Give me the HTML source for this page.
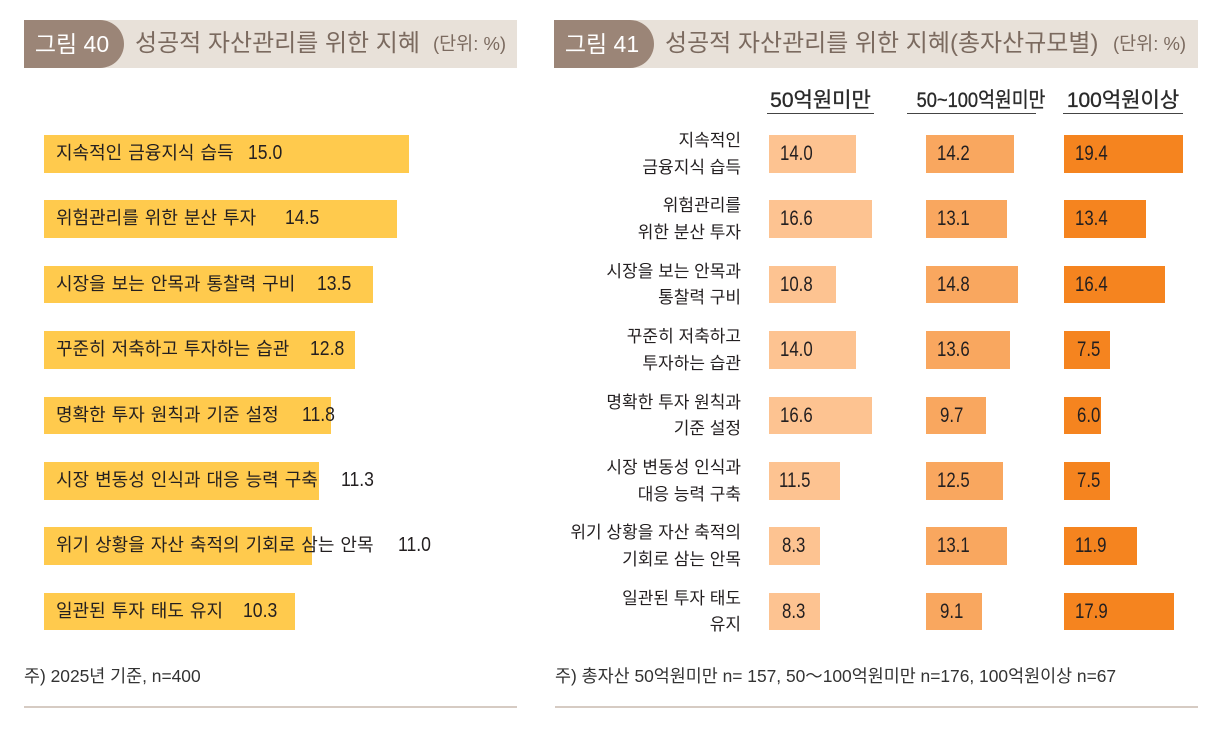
<!DOCTYPE html>
<html lang="ko">
<head>
<meta charset="utf-8">
<style>
  html,body{margin:0;padding:0;background:#fff;}
  body{width:1232px;height:730px;position:relative;overflow:hidden;
       font-family:"Liberation Sans","Noto Sans CJK KR",sans-serif;color:#231f20;}
  .band{position:absolute;top:20px;height:48px;background:#e8e1d9;}
  .pill{position:absolute;top:20px;height:48px;width:100px;background:#9b8577;
        border-radius:0 24px 24px 0;color:#fff;font-size:23px;line-height:48px;
        text-align:center;box-sizing:border-box;padding-right:4px;white-space:nowrap;}
  .title{position:absolute;top:20px;height:48px;line-height:48px;color:#7b6a5f;font-size:24px;white-space:nowrap;}
  .unit{position:absolute;top:20px;height:48px;line-height:48px;color:#7b6a5f;font-size:18.5px;white-space:nowrap;}
  .lbar{position:absolute;left:43.5px;height:37.5px;background:#ffca4d;}
  .ltxt{position:absolute;left:56px;height:37.5px;line-height:37.5px;font-size:18px;word-spacing:1px;white-space:nowrap;color:#231f20;}
  .lval{position:absolute;height:37.5px;line-height:37.5px;font-size:20px;white-space:nowrap;color:#231f20;
        transform:scaleX(.88);transform-origin:left center;}
  .rbar{position:absolute;height:37.5px;}
  .c1{background:#fdc391;} .c2{background:#f9a75f;} .c3{background:#f5841f;}
  .rval{position:absolute;height:37.5px;line-height:37.5px;font-size:21px;white-space:nowrap;color:#231f20;
        transform:scaleX(.8);transform-origin:left center;}
  .rlab{position:absolute;right:491px;text-align:right;font-size:17px;line-height:26.5px;white-space:nowrap;color:#231f20;}
  .hdr{position:absolute;top:88px;height:25px;line-height:25px;font-size:21px;text-align:center;
       border-bottom:1.5px solid #444;color:#2a2a2a;white-space:nowrap;-webkit-text-stroke:0.35px #2a2a2a;}
  .hdr span{display:inline-block;}
  .note{position:absolute;top:664px;font-size:17.4px;line-height:24px;color:#333;white-space:nowrap;}
  .rule{position:absolute;top:706px;height:2px;background:#d6cbc3;}
</style>
</head>
<body>

<!-- Left header -->
<div class="band" style="left:24px;width:493px;"></div>
<div class="pill" style="left:24px;">그림 40</div>
<div class="title" style="left:135px;">성공적 자산관리를 위한 지혜</div>
<div class="unit" style="left:433px;">(단위: %)</div>

<!-- Right header -->
<div class="band" style="left:554px;width:644px;"></div>
<div class="pill" style="left:554px;">그림 41</div>
<div class="title" style="left:665px;">성공적 자산관리를 위한 지혜(총자산규모별)</div>
<div class="unit" style="left:1113px;">(단위: %)</div>

<!-- Left chart bars -->
<div class="lbar" style="top:135px;width:365.6px;"></div>
<div class="ltxt" style="top:135px;">지속적인 금융지식 습득</div>
<div class="lval" style="top:135px;left:248px;">15.0</div>

<div class="lbar" style="top:200.4px;width:353.4px;"></div>
<div class="ltxt" style="top:200.4px;">위험관리를 위한 분산 투자</div>
<div class="lval" style="top:200.4px;left:285px;">14.5</div>

<div class="lbar" style="top:265.8px;width:329px;"></div>
<div class="ltxt" style="top:265.8px;">시장을 보는 안목과 통찰력 구비</div>
<div class="lval" style="top:265.8px;left:317px;">13.5</div>

<div class="lbar" style="top:331.2px;width:311.9px;"></div>
<div class="ltxt" style="top:331.2px;">꾸준히 저축하고 투자하는 습관</div>
<div class="lval" style="top:331.2px;left:310px;">12.8</div>

<div class="lbar" style="top:396.6px;width:287.6px;"></div>
<div class="ltxt" style="top:396.6px;">명확한 투자 원칙과 기준 설정</div>
<div class="lval" style="top:396.6px;left:302px;">11.8</div>

<div class="lbar" style="top:462px;width:275.4px;"></div>
<div class="ltxt" style="top:462px;">시장 변동성 인식과 대응 능력 구축</div>
<div class="lval" style="top:462px;left:341px;">11.3</div>

<div class="lbar" style="top:527.4px;width:268.1px;"></div>
<div class="ltxt" style="top:527.4px;">위기 상황을 자산 축적의 기회로 삼는 안목</div>
<div class="lval" style="top:527.4px;left:398px;">11.0</div>

<div class="lbar" style="top:592.8px;width:251px;"></div>
<div class="ltxt" style="top:592.8px;">일관된 투자 태도 유지</div>
<div class="lval" style="top:592.8px;left:243px;">10.3</div>

<!-- Right chart column headers -->
<div class="hdr" style="left:767px;width:107px;"><span>50억원미만</span></div>
<div class="hdr" style="left:907px;width:129px;"><span style="transform:scaleX(.87);">50~100억원미만</span></div>
<div class="hdr" style="left:1063px;width:120px;"><span>100억원이상</span></div>

<!-- Right chart rows -->
<!-- Row 1 -->
<div class="rlab" style="top:128px;">지속적인<br>금융지식 습득</div>
<div class="rbar c1" style="top:135px;left:769px;width:86.5px;"></div>
<div class="rval" style="top:135px;left:780px;">14.0</div>
<div class="rbar c2" style="top:135px;left:926px;width:87.8px;"></div>
<div class="rval" style="top:135px;left:937px;">14.2</div>
<div class="rbar c3" style="top:135px;left:1063.5px;width:119.9px;"></div>
<div class="rval" style="top:135px;left:1075px;">19.4</div>

<!-- Row 2 -->
<div class="rlab" style="top:193.4px;">위험관리를<br>위한 분산 투자</div>
<div class="rbar c1" style="top:200.4px;left:769px;width:102.6px;"></div>
<div class="rval" style="top:200.4px;left:780px;">16.6</div>
<div class="rbar c2" style="top:200.4px;left:926px;width:81px;"></div>
<div class="rval" style="top:200.4px;left:937px;">13.1</div>
<div class="rbar c3" style="top:200.4px;left:1063.5px;width:82.8px;"></div>
<div class="rval" style="top:200.4px;left:1075px;">13.4</div>

<!-- Row 3 -->
<div class="rlab" style="top:258.8px;">시장을 보는 안목과<br>통찰력 구비</div>
<div class="rbar c1" style="top:265.8px;left:769px;width:66.7px;"></div>
<div class="rval" style="top:265.8px;left:780px;">10.8</div>
<div class="rbar c2" style="top:265.8px;left:926px;width:91.5px;"></div>
<div class="rval" style="top:265.8px;left:937px;">14.8</div>
<div class="rbar c3" style="top:265.8px;left:1063.5px;width:101.4px;"></div>
<div class="rval" style="top:265.8px;left:1075px;">16.4</div>

<!-- Row 4 -->
<div class="rlab" style="top:324.2px;">꾸준히 저축하고<br>투자하는 습관</div>
<div class="rbar c1" style="top:331.2px;left:769px;width:86.5px;"></div>
<div class="rval" style="top:331.2px;left:780px;">14.0</div>
<div class="rbar c2" style="top:331.2px;left:926px;width:84px;"></div>
<div class="rval" style="top:331.2px;left:937px;">13.6</div>
<div class="rbar c3" style="top:331.2px;left:1063.5px;width:46.4px;"></div>
<div class="rval" style="top:331.2px;left:1077px;">7.5</div>

<!-- Row 5 -->
<div class="rlab" style="top:389.6px;">명확한 투자 원칙과<br>기준 설정</div>
<div class="rbar c1" style="top:396.6px;left:769px;width:102.6px;"></div>
<div class="rval" style="top:396.6px;left:780px;">16.6</div>
<div class="rbar c2" style="top:396.6px;left:926px;width:59.9px;"></div>
<div class="rval" style="top:396.6px;left:940px;">9.7</div>
<div class="rbar c3" style="top:396.6px;left:1063.5px;width:37.1px;"></div>
<div class="rval" style="top:396.6px;left:1077px;">6.0</div>

<!-- Row 6 -->
<div class="rlab" style="top:455px;">시장 변동성 인식과<br>대응 능력 구축</div>
<div class="rbar c1" style="top:462px;left:769px;width:71.1px;"></div>
<div class="rval" style="top:462px;left:779px;">11.5</div>
<div class="rbar c2" style="top:462px;left:926px;width:77.3px;"></div>
<div class="rval" style="top:462px;left:937px;">12.5</div>
<div class="rbar c3" style="top:462px;left:1063.5px;width:46.4px;"></div>
<div class="rval" style="top:462px;left:1077px;">7.5</div>

<!-- Row 7 -->
<div class="rlab" style="top:520.4px;">위기 상황을 자산 축적의<br>기회로 삼는 안목</div>
<div class="rbar c1" style="top:527.4px;left:769px;width:51.3px;"></div>
<div class="rval" style="top:527.4px;left:782px;">8.3</div>
<div class="rbar c2" style="top:527.4px;left:926px;width:81px;"></div>
<div class="rval" style="top:527.4px;left:937px;">13.1</div>
<div class="rbar c3" style="top:527.4px;left:1063.5px;width:73.5px;"></div>
<div class="rval" style="top:527.4px;left:1075px;">11.9</div>

<!-- Row 8 -->
<div class="rlab" style="top:585.8px;">일관된 투자 태도<br>유지</div>
<div class="rbar c1" style="top:592.8px;left:769px;width:51.3px;"></div>
<div class="rval" style="top:592.8px;left:782px;">8.3</div>
<div class="rbar c2" style="top:592.8px;left:926px;width:56.2px;"></div>
<div class="rval" style="top:592.8px;left:940px;">9.1</div>
<div class="rbar c3" style="top:592.8px;left:1063.5px;width:110.6px;"></div>
<div class="rval" style="top:592.8px;left:1075px;">17.9</div>

<!-- Notes -->
<div class="note" style="left:24px;">주) 2025년 기준, n=400</div>
<div class="note" style="left:555px;">주) 총자산 50억원미만 n= 157, 50～100억원미만 n=176, 100억원이상 n=67</div>

<div class="rule" style="left:24px;width:493px;"></div>
<div class="rule" style="left:555px;width:643px;"></div>

</body>
</html>
